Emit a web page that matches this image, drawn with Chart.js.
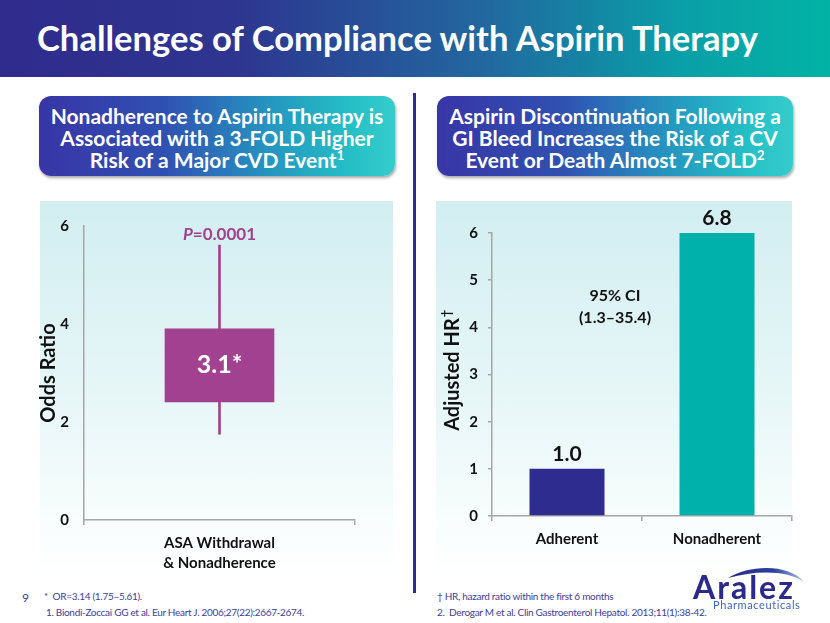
<!DOCTYPE html>
<html>
<head>
<meta charset="utf-8">
<script src="https://cdn.jsdelivr.net/npm/chart.js@4.4.1/dist/chart.umd.min.js"></script>
<style>
  html, body { margin: 0; padding: 0; background: #fff; }
  body { width: 830px; height: 623px; position: relative; overflow: hidden; font-family: Lato, "Open Sans", sans-serif; }
  .banner { position: absolute; left: 0; top: 0; width: 830px; height: 77px;
    background: linear-gradient(90deg, #2f2b8c 0%, #2e3590 28%, #22679f 58%, #0a9fa8 82%, #03b3a5 100%); }
  .banner h1 { position: absolute; left: 37px; top: 17px; margin: 0; color: #fff;
    font: 700 34.6px Lato, sans-serif; white-space: nowrap; }
  .pill { position: absolute; top: 96px; width: 356px; height: 80px; border-radius: 12px;
    background: linear-gradient(90deg, #3935a6 0%, #3050b2 35%, #2596c0 65%, #25c0c6 88%, #35cccc 100%);
    color: #fff; font: 700 21px/22px Lato, sans-serif; text-align: center;
    box-shadow: 1px 2px 3px rgba(0,0,0,0.35);
    display: flex; align-items: center; justify-content: center; }
  .pill span { display: block; padding-top: 4px; }
  .pill sup { font-size: 13px; line-height: 0; vertical-align: 8px; }
  .panel { position: absolute; top: 201px; height: 380px;
    background: linear-gradient(180deg, #d2eef1 0%, #e6f6f7 50%, #fbfefe 90%, #ffffff 100%); }
  .divider { position: absolute; left: 413px; top: 93px; width: 3px; height: 500px; background: #2e2d8f; }
  .box { position: absolute; }
  .note { position: absolute; font: 10px Lato, sans-serif; letter-spacing: -0.3px; color: #3d3d9f; white-space: nowrap; }
  .logo { position: absolute; left: 690px; top: 566px; width: 130px; height: 50px; }
  .logo .name { position: absolute; left: 3px; top: 1px; font: 700 32px Lato, sans-serif; color: #2b2a8a; letter-spacing: 2px; }
  .logo .sub { position: absolute; left: 23px; top: 32px; font: 11px Lato, sans-serif; color: #3c66c4; letter-spacing: 0.6px; }
</style>
</head>
<body>
<div class="banner"><h1>Challenges of Compliance with Aspirin Therapy</h1></div>

<div class="pill" style="left:39px"><span>Nonadherence to Aspirin Therapy is<br>Associated with a 3-FOLD Higher<br>Risk of a Major CVD Event<sup>1</sup></span></div>
<div class="pill" style="left:437px"><span>Aspirin Discontinuation Following a<br>GI Bleed Increases the Risk of a CV<br>Event or Death Almost 7-FOLD<sup>2</sup></span></div>

<div class="divider"></div>
<div class="panel" style="left:40px;width:353px"></div>
<div class="panel" style="left:436px;width:356px"></div>

<div class="box" style="left:30px;top:200px"><canvas id="orChart" width="370" height="380"></canvas></div>
<div class="box" style="left:425px;top:200px"><canvas id="hrChart" width="380" height="375"></canvas></div>

<div class="note" style="left:22px;top:590px;font-size:12px;letter-spacing:0">9</div>
<div class="note" style="left:44px;top:590px">*&nbsp;&nbsp;OR=3.14 (1.75–5.61).</div>
<div class="note" style="left:46px;top:606px">1. Biondi-Zoccai GG et al. Eur Heart J. 2006;27(22):2667-2674.</div>
<div class="note" style="left:437px;top:590px">† HR, hazard ratio within the first 6 months</div>
<div class="note" style="left:437px;top:606px">2.&nbsp; Derogar M et al. Clin Gastroenterol Hepatol. 2013;11(1):38-42.</div>

<div class="logo">
  <svg width="130" height="50" style="position:absolute;left:0;top:0">
    <defs>
      <linearGradient id="sw" x1="0" x2="1" y1="0" y2="0">
        <stop offset="0" stop-color="#2b2a8a"/>
        <stop offset="0.6" stop-color="#2b3f9c"/>
        <stop offset="1" stop-color="#a9c4ea"/>
      </linearGradient>
    </defs>
    <path d="M38 12 C 60 -2, 100 -2, 114 16 C 98 4, 66 4, 38 12 Z" fill="url(#sw)"/>
  </svg>
  <div class="name">Aralez</div>
  <div class="sub">Pharmaceuticals</div>
</div>

<script>
// left chart: odds ratio with 95% CI
const orCategories = [['ASA Withdrawal', '& Nonadherence']];
const orBox = [2.41, 3.9];
const orCI = [1.75, 5.61];
const orText = '3.1*';
const orTicks = [0, 2, 4, 6];
const pValue = '0.0001';

// right chart: adjusted hazard ratio
const hrCategories = ['Adherent', 'Nonadherent'];
const hrValues = [1.0, 6.8];
const hrText = ['1.0', '6.8'];
const hrTicks = [0, 1, 2, 3, 4, 5, 6];
const ciText = ['95% CI', '(1.3–35.4)'];

const PURPLE = '#a2418f';
const NAVY = '#2e2d8f';
const TEAL = '#00b0aa';
const AXIS = '#a6a6a6';
const INK = '#111';

Chart.defaults.font.family = 'Lato, "Open Sans", sans-serif';
Chart.defaults.color = INK;

const orLabels = {
  id: 'orLabels',
  afterDatasetsDraw(chart) {
    const { ctx, scales: { x, y } } = chart;
    const cx = x.getPixelForValue(0);
    ctx.save();
    ctx.fillStyle = '#fff';
    ctx.font = 'bold 25px Lato';
    ctx.textAlign = 'center';
    ctx.textBaseline = 'middle';
    ctx.fillText(orText, cx, y.getPixelForValue((orBox[0] + orBox[1]) / 2));

    // P=0.0001 above the whisker, P in italics
    const base = y.getPixelForValue(orCI[1]) - 5;
    ctx.fillStyle = PURPLE;
    ctx.textBaseline = 'alphabetic';
    ctx.textAlign = 'left';
    ctx.font = 'italic bold 17px Lato';
    const w1 = ctx.measureText('P').width;
    ctx.font = 'bold 17px Lato';
    const w2 = ctx.measureText('=' + pValue).width;
    const sx = cx - (w1 + w2) / 2;
    ctx.font = 'italic bold 17px Lato';
    ctx.fillText('P', sx, base);
    ctx.font = 'bold 17px Lato';
    ctx.fillText('=' + pValue, sx + w1, base);
    ctx.restore();
  }
};

new Chart(document.getElementById('orChart'), {
  type: 'bar',
  data: {
    labels: orCategories,
    datasets: [
      { data: [orBox], backgroundColor: PURPLE, barThickness: 109, grouped: false, order: 0 },
      { data: [orCI], backgroundColor: PURPLE, barThickness: 2, grouped: false, order: 1 }
    ]
  },
  options: {
    responsive: false,
    animation: false,
    events: [],
    layout: { padding: { top: 26, right: 45, left: 0, bottom: 0 } },
    plugins: { legend: { display: false }, tooltip: { enabled: false } },
    scales: {
      x: {
        grid: { drawOnChartArea: false, drawTicks: true, tickLength: 5, color: AXIS, lineWidth: 1.5 },
        border: { color: AXIS, width: 1.5 },
        ticks: { font: { size: 15, weight: 'bold', lineHeight: 1.33 }, padding: 8, color: INK },
        afterFit(scale) { scale.height = 60; }
      },
      y: {
        min: orTicks[0],
        max: orTicks[orTicks.length - 1],
        ticks: { stepSize: orTicks[1] - orTicks[0], font: { size: 15, weight: 'bold' }, padding: 15, color: INK },
        grid: { drawOnChartArea: false, drawTicks: false },
        border: { color: AXIS, width: 1.5 },
        title: { display: true, text: 'Odds Ratio', font: { size: 20, weight: 'bold' }, padding: { top: 7, bottom: 0 }, color: INK },
        afterFit(scale) { scale.width = 54; }
      }
    }
  },
  plugins: [orLabels]
});

const hrLabels = {
  id: 'hrLabels',
  afterDatasetsDraw(chart) {
    const { ctx, chartArea, scales: { x, y } } = chart;
    ctx.save();
    ctx.fillStyle = INK;
    ctx.textAlign = 'center';
    ctx.textBaseline = 'alphabetic';
    ctx.font = 'bold 21px Lato';
    chart.getDatasetMeta(0).data.forEach((bar, i) => {
      ctx.fillText(hrText[i], bar.x, Math.max(bar.y, chartArea.top) - 8);
    });

    // CI note between the bars
    const p0 = x.getPixelForValue(0), p1 = x.getPixelForValue(1);
    const cx = p0 + (p1 - p0) * 0.32;
    const cy = y.getPixelForValue(4.66);
    ctx.font = 'bold 16px Lato';
    ctx.textBaseline = 'middle';
    ciText.forEach((t, i) => ctx.fillText(t, cx, cy + i * 22));

    // dagger after the axis title
    ctx.font = 'bold 20px Lato';
    const w = ctx.measureText('Adjusted HR').width;
    const tx = y.left + 16 + 12;
    const ty = (chartArea.top + chartArea.bottom) / 2 - w / 2;
    ctx.translate(tx - 6, ty - 1);
    ctx.rotate(-Math.PI / 2);
    ctx.font = 'bold 13px Lato';
    ctx.textAlign = 'left';
    ctx.fillText('†', 0, 0);
    ctx.restore();
  }
};

new Chart(document.getElementById('hrChart'), {
  type: 'bar',
  data: {
    labels: hrCategories,
    datasets: [{
      data: hrValues,
      backgroundColor: [NAVY, TEAL],
      barPercentage: 0.5,
      categoryPercentage: 1
    }]
  },
  options: {
    responsive: false,
    animation: false,
    events: [],
    layout: { padding: { top: 33, right: 13, left: 0, bottom: 0 } },
    plugins: { legend: { display: false }, tooltip: { enabled: false } },
    scales: {
      x: {
        grid: { drawOnChartArea: false, drawTicks: true, tickLength: 5, color: AXIS, lineWidth: 1.5 },
        border: { color: AXIS, width: 1.5 },
        ticks: { font: { size: 15, weight: 'bold' }, padding: 9, color: INK },
        afterFit(scale) { scale.height = 59; }
      },
      y: {
        min: hrTicks[0],
        max: hrTicks[hrTicks.length - 1],
        ticks: { stepSize: hrTicks[1] - hrTicks[0], font: { size: 15, weight: 'bold' }, padding: 10, color: INK },
        grid: { drawOnChartArea: false, drawTicks: true, tickLength: 4, color: AXIS, lineWidth: 1.5 },
        border: { color: AXIS, width: 1.5 },
        title: { display: true, text: 'Adjusted HR', font: { size: 20, weight: 'bold' }, padding: { top: 16, bottom: 0 }, color: INK },
        afterFit(scale) { scale.width = 67; }
      }
    }
  },
  plugins: [hrLabels]
});
</script>
</body>
</html>
